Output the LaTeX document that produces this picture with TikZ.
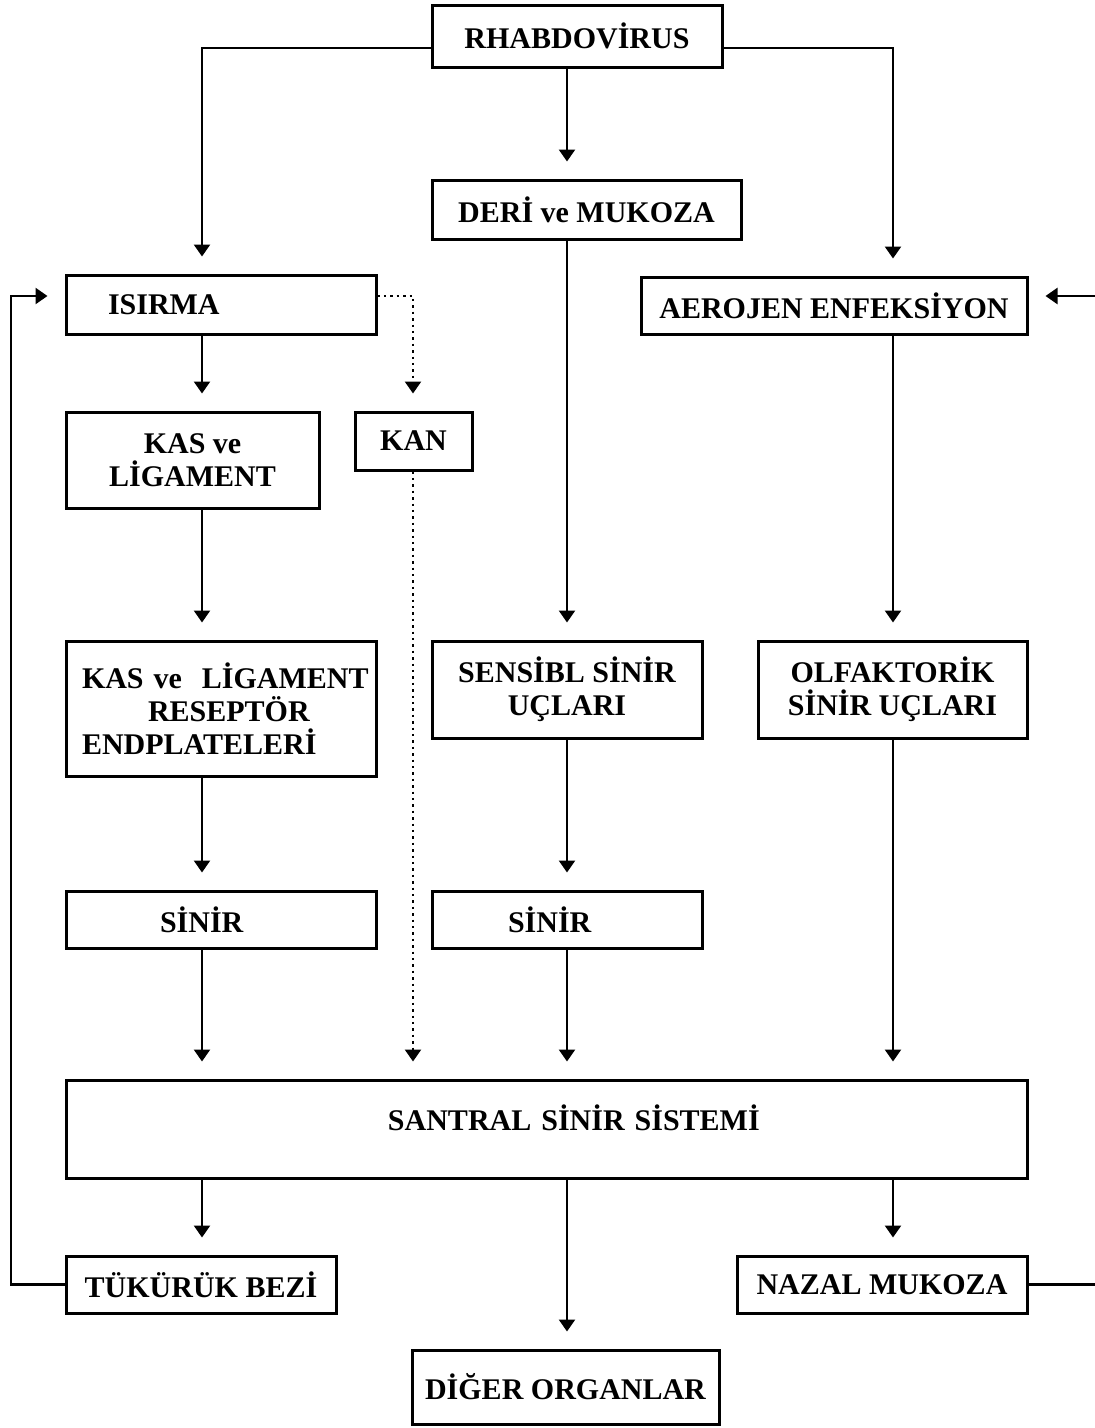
\documentclass[tikz,border=0pt]{standalone}
\usepackage{fontspec}
\setmainfont{Liberation Serif}
\usetikzlibrary{positioning,calc,arrows.meta}

\begin{document}
\begin{tikzpicture}[x=1pt, y=-1pt,
		box/.style={draw, line width=3pt, inner sep=0pt, align=center,
			font=\bfseries\fontsize{30}{33}\selectfont},
		lbox/.style={box, align=left},
		arr/.style={line width=2.4pt, -{Triangle[length=12pt,width=16pt]}, shorten >=17pt},
		dotline/.style={arr, dash pattern=on 2.4pt off 4pt}]
			\useasboundingbox (0,0) rectangle (1095,1428);
			\coordinate (c1) at (202,0);
			\coordinate (c2) at (413,0);
			\coordinate (c3) at (567,0);
			\coordinate (c4) at (893,0);
			\coordinate (cl) at (11,0);
			\coordinate (cr) at (1100,0);
			\coordinate (r1) at (0,48);
			\coordinate (r2) at (0,296);
			\node [box, minimum width=290pt, minimum height=62pt] (rhab) at (577,36) {RHABDOVİRUS};
			\node [box, minimum width=309pt, minimum height=59pt] (deri) at (586.5,209.5) {DERİ ve MUKOZA};
			\node [lbox, text width=310pt, minimum height=59pt] (isirma) at (221,304.5) {\hspace*{42pt}ISIRMA};
			\node [box, minimum width=386pt, minimum height=57pt] (aero) at (834,305.5) {AEROJEN ENFEKSİYON};
			\node [box, minimum width=253pt, minimum height=96pt] (kasl) at (192.5,460) {KAS ve\\LİGAMENT};
			\node [box, minimum width=117pt, minimum height=58pt] (kan) at (413.5,441) {KAN};
			\node [lbox, text width=310pt, minimum height=135pt] (kasr) at (221,708.5) {\hspace*{16pt}KAS ve\ \ LİGAMENT\\\hspace*{82pt}RESEPTÖR\\\hspace*{16pt}ENDPLATELERİ};
			\node [box, minimum width=270pt, minimum height=97pt] (sens) at (567,689.5) {SENSİBL SİNİR\\UÇLARI};
			\node [box, minimum width=269pt, minimum height=97pt] (olf) at (892.5,689.5) {OLFAKTORİK\\SİNİR UÇLARI};
			\node [lbox, text width=310pt, minimum height=57pt] (sinA) at (221,919.5) {\hspace*{94pt}SİNİR};
			\node [lbox, text width=270pt, minimum height=57pt] (sinB) at (567,919.5) {\hspace*{76pt}SİNİR};
			\node [lbox, text width=961pt, text depth=22pt, minimum height=98pt] (cns) at (546.5,1129) {\hspace*{322pt}SANTRAL SİNİR SİSTEMİ};
			\node [box, minimum width=270pt, minimum height=57pt] (tuk) at (201,1284.5) {TÜKÜRÜK BEZİ};
			\node [box, minimum width=290pt, minimum height=57pt] (nazal) at (882,1284.5) {NAZAL MUKOZA};
			\node [box, minimum width=307pt, minimum height=74pt] (diger) at (565.5,1387) {DİĞER ORGANLAR};
			\draw [arr] (rhab.west |- r1) -| (isirma.north -| c1);
			\draw [arr] (rhab.east |- r1) -| (aero.north -| c4);
			\draw [arr] (rhab.south -| c3) -- (deri.north -| c3);
			\draw [arr] (deri.south -| c3) -- (sens.north -| c3);
			\draw [arr] (isirma.south -| c1) -- (kasl.north -| c1);
			\draw [dotline] (isirma.east |- r2) -| (kan.north -| c2);
			\draw [dotline] (kan.south -| c2) -- (cns.north -| c2);
			\draw [arr] (kasl.south -| c1) -- (kasr.north -| c1);
			\draw [arr] (aero.south -| c4) -- (olf.north -| c4);
			\draw [arr] (kasr.south -| c1) -- (sinA.north -| c1);
			\draw [arr] (sens.south -| c3) -- (sinB.north -| c3);
			\draw [arr] (olf.south -| c4) -- (cns.north -| c4);
			\draw [arr] (sinA.south -| c1) -- (cns.north -| c1);
			\draw [arr] (sinB.south -| c3) -- (cns.north -| c3);
			\draw [arr] (cns.south -| c1) -- (tuk.north -| c1);
			\draw [arr] (cns.south -| c3) -- (diger.north -| c3);
			\draw [arr] (cns.south -| c4) -- (nazal.north -| c4);
			\draw [arr] (tuk.west) -- (tuk.west -| cl) |- (isirma.west |- r2);
			\draw [arr] (nazal.east) -- (nazal.east -| cr) |- (aero.east |- r2);
		\end{tikzpicture}
\end{document}
